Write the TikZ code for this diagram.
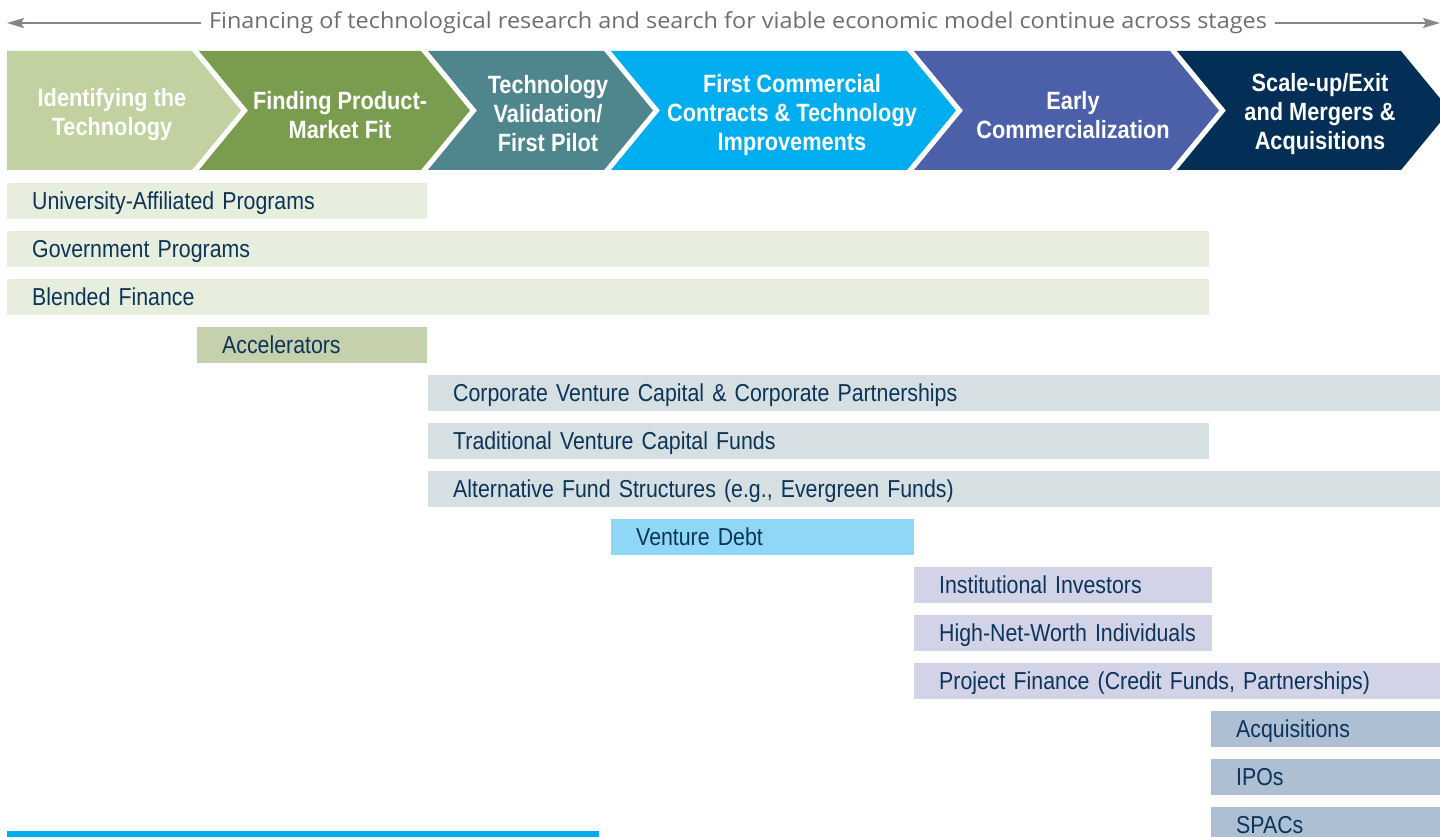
\documentclass[tikz,border=0pt]{standalone}
\usepackage{fontspec}
\setmainfont{Liberation Sans}[FakeStretch=0.87]
\newfontfamily\headfont{Open Sans}[FakeStretch=1.065]
\usepackage{tikz}
\usetikzlibrary{arrows.meta}

\definecolor{ink}{HTML}{0C3459}
\definecolor{headgray}{HTML}{6D6E70}
\definecolor{arrowgray}{HTML}{858688}
\definecolor{sage}{HTML}{C1D2A0}
\definecolor{olive}{HTML}{7A9C4E}
\definecolor{teal}{HTML}{4F858C}
\definecolor{sky}{HTML}{00AEEF}
\definecolor{indigo}{HTML}{4C5FA9}
\definecolor{navy}{HTML}{032E55}
\definecolor{palegreen}{HTML}{E8EEDD}
\definecolor{accgreen}{HTML}{C5D0AC}
\definecolor{palegray}{HTML}{D6DFE1}
\definecolor{lightsky}{HTML}{8ED8F6}
\definecolor{lavender}{HTML}{D3D3E8}
\definecolor{steel}{HTML}{AEBFD4}

\tikzstyle{garrow} = [-{Stealth[length=17pt,width=10pt,inset=3pt]},line width=1.4pt,draw=arrowgray]
\tikzstyle{headtext} = [text=headgray,inner xsep=8pt,font=\headfont\fontsize{22}{26}\selectfont]
\tikzstyle{stagetext} = [align=center,text=white,font=\bfseries\fontsize{25}{29}\selectfont]
\tikzstyle{fund} = [anchor=west,inner xsep=25pt,inner ysep=0pt,minimum height=36pt,align=left,text=ink,
  text height=17.6pt,text depth=0pt,font=\fontsize{24.5}{29}\selectfont]

\begin{document}
\begin{tikzpicture}[x=1pt,y=-1pt]
        \useasboundingbox (0,0) rectangle (1440,837);

        % heading with its two arrows
        \node[headtext,anchor=base] (head) at (738,29) {Financing of technological research and search for viable economic model continue across stages};
        \coordinate (lend) at (7,23);
        \coordinate (rend) at (1440,23);
        \draw[garrow] (head.west |- lend) -- (lend);
        \draw[garrow] (head.east |- rend) -- (rend);

        % stages
        \fill[sage] (7,51) -- (192,51) -- (241,110.5) -- (192,170) -- (7,170) -- cycle;
        \fill[olive] (199,51) -- (421,51) -- (470,110.5) -- (421,170) -- (199,170) -- (248,110.5) -- cycle;
        \fill[teal] (428,51) -- (604,51) -- (653,110.5) -- (604,170) -- (428,170) -- (477,110.5) -- cycle;
        \fill[sky] (611,51) -- (907,51) -- (956,110.5) -- (907,170) -- (611,170) -- (660,110.5) -- cycle;
        \fill[indigo] (914,51) -- (1170,51) -- (1219,110.5) -- (1170,170) -- (914,170) -- (963,110.5) -- cycle;
        \fill[navy] (1177,51) -- (1401,51) -- (1450,110.5) -- (1401,170) -- (1177,170) -- (1226,110.5) -- cycle;

        \node[stagetext] (identify) at (112,115) {Identifying the\\Technology};
        \node[stagetext] (fit) at (340,115) {Finding Product-\\Market Fit};
        \node[stagetext] (pilot) at (548,114) {Technology\\Validation/\\First Pilot};
        \node[stagetext] (contracts) at (792,115) {First Commercial\\Contracts \& Technology\\Improvements};
        \node[stagetext] (early) at (1073,115) {Early\\Commercialization};
        \node[stagetext] (exit) at (1320,114) {Scale-up/Exit\\and Mergers \&\\Acquisitions};

        % sources of funding
        \node[fund,fill=palegreen,text width=370pt] (uni) at (7,201) {University-Affiliated Programs};
        \node[fund,fill=palegreen,text width=1152pt] (gov) at (7,249) {Government Programs};
        \node[fund,fill=palegreen,text width=1152pt] (blend) at (7,297) {Blended Finance};
        \node[fund,fill=accgreen,text width=180pt] (acc) at (197,345) {Accelerators};
        \node[fund,fill=palegray,text width=962pt] (cvc) at (428,393) {Corporate Venture Capital \& Corporate Partnerships};
        \node[fund,fill=palegray,text width=731pt] (tvc) at (428,441) {Traditional Venture Capital Funds};
        \node[fund,fill=palegray,text width=962pt] (alt) at (428,489) {Alternative Fund Structures (e.g., Evergreen Funds)};
        \node[fund,fill=lightsky,text width=253pt] (debt) at (611,537) {Venture Debt};
        \node[fund,fill=lavender,text width=248pt] (inst) at (914,585) {Institutional Investors};
        \node[fund,fill=lavender,text width=248pt] (hnw) at (914,633) {\mbox{High-Net-Worth Individuals}};
        \node[fund,fill=lavender,text width=476pt] (proj) at (914,681) {Project Finance (Credit Funds, Partnerships)};
        \node[fund,fill=steel,text width=179pt] (acq) at (1211,729) {Acquisitions};
        \node[fund,fill=steel,text width=179pt] (ipo) at (1211,777) {IPOs};
        \node[fund,fill=steel,text width=179pt] (spac) at (1211,825) {SPACs};

        \fill[sky] (7,831) rectangle (599,840);
\end{tikzpicture}
\end{document}
